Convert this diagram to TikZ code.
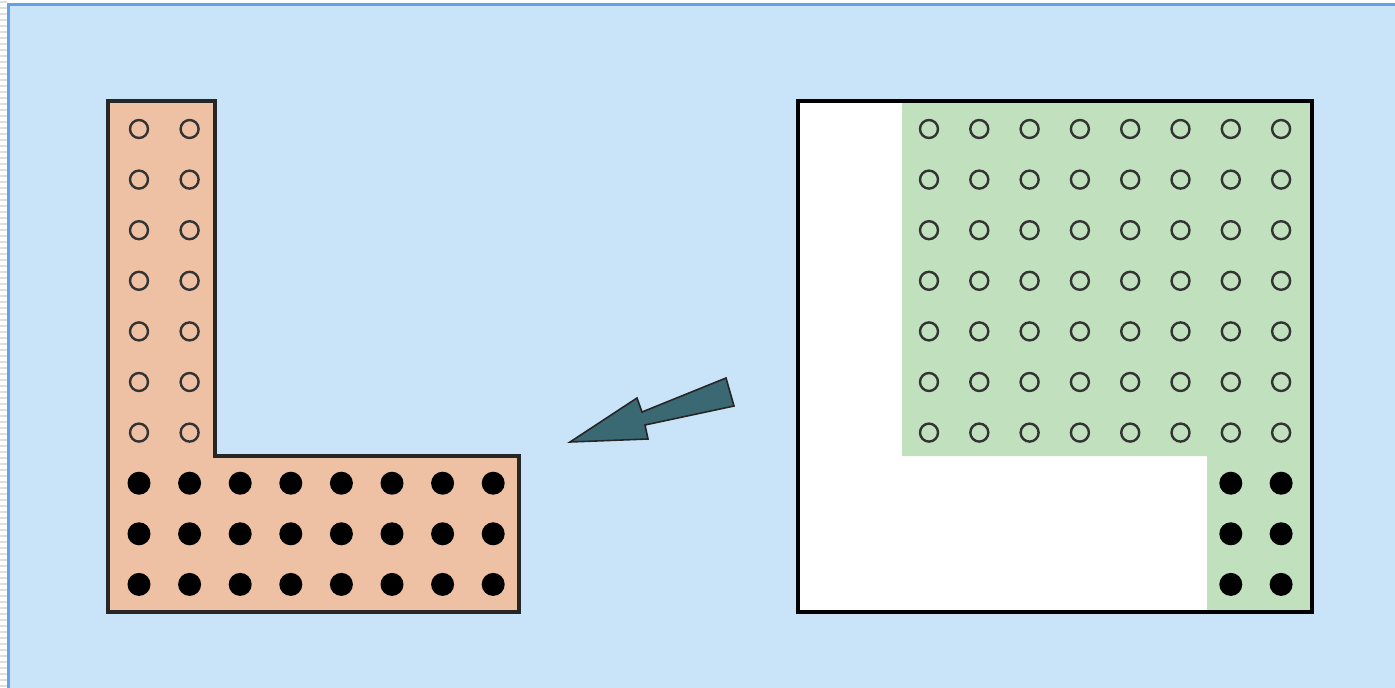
\documentclass[tikz,border=0pt]{standalone}
\usepackage{tikz}

\definecolor{paneblue}{HTML}{C9E4F9}
\definecolor{paneedge}{HTML}{64A2E6}
\definecolor{salmon}{HTML}{EFC1A4}
\definecolor{mintfill}{HTML}{C1E1BE}
\definecolor{arrowteal}{HTML}{3A6873}

\begin{document}
\begin{tikzpicture}[x=1pt,y=-1pt]
    \useasboundingbox (0,0) rectangle (1395,688);
    % page strip and pane
    \fill[white] (0,0) rectangle (1395,688);
    \foreach \y in {2,8,...,686} {\draw[gray!25,line width=2pt] (0,\y) -- (7,\y);}
    \draw[paneedge,fill=paneblue,line width=3pt] (8.5,4.5) rectangle (1420,720);
    % L-shaped block
    \begin{scope}
      \draw[fill=salmon,draw=black!85,line width=3.2pt] (108,101) -- (215,101) -- (215,456) -- (519,456) -- (519,612) -- (108,612) -- cycle;
      \foreach \c in {0,1} \foreach \r in {0,...,6} {\draw[black!80,line width=2.4pt] (139+50.6*\c,129+50.6*\r) circle (9pt);}
      \foreach \c in {0,...,7} \foreach \r in {7,8,9} {\fill (139+50.6*\c,129+50.6*\r) circle (11.5pt);}
    \end{scope}
    % arrow
    \draw[fill=arrowteal,draw=black!85,line width=1.6pt,line join=miter] (570,442) -- (637,398) -- (642,412) -- (726,378) -- (734,406) -- (645,425) -- (648,439) -- cycle;
    % box with the green region
    \begin{scope}
      \fill[white] (798,101) rectangle (1312,612);
      \fill[mintfill] (902,101) -- (1312,101) -- (1312,612) -- (1207,612) -- (1207,456) -- (902,456) -- cycle;
      \draw[line width=3.2pt] (798,101) rectangle (1312,612);
      \foreach \c in {0,...,7} \foreach \r in {0,...,6} {\draw[black!80,line width=2.4pt] (929+50.3*\c,129+50.6*\r) circle (9pt);}
      \foreach \c in {6,7} \foreach \r in {7,8,9} {\fill (929+50.3*\c,129+50.6*\r) circle (11.5pt);}
    \end{scope}
\end{tikzpicture}
\end{document}
